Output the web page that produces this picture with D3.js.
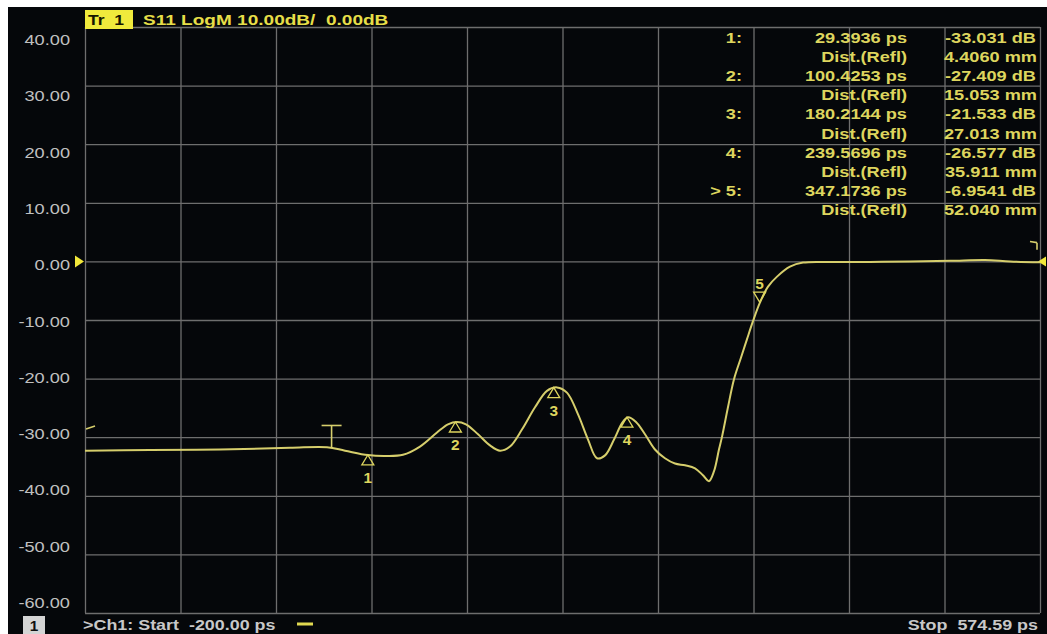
<!DOCTYPE html>
<html>
<head>
<meta charset="utf-8">
<script src="https://cdn.jsdelivr.net/npm/d3@7"></script>
<style>
  html, body { margin: 0; padding: 0; background: #ffffff; }
  svg { display: block; }
  text { font-family: "Liberation Sans", Arial, sans-serif; white-space: pre; }
</style>
</head>
<body>
<svg id="chart" width="1047" height="634"></svg>
<script>
// ---------------- data ----------------
const startPs = -200.00;
const stopPs = 574.59;
const yTicks = [40, 30, 20, 10, 0, -10, -20, -30, -40, -50, -60];
const traceTitle = "S11 LogM 10.00dB/  0.00dB";

// trace (time in ps, S11 in dB)
const tracePs = [-200, -147.3, -90.5, -33.7, -3.7, 10.9, 29.5, 43.3, 57.9, 71.7, 85.5, 94.4, 101.7, 109.0,
  118.8, 128.5, 136.6, 144.7, 154.4, 165.0, 174.7, 182.8, 190.9, 199.9, 208.0, 215.3, 221.8, 229.1, 235.6,
  240.4, 246.9, 254.2, 262.3, 270.4, 278.5, 286.7, 294.8, 301.2, 306.1, 310.2, 314.2, 316.7, 321.5, 326.4,
  332.1, 336.9, 341.8, 347.5, 354.0, 361.3, 371.8, 382.4, 404.3, 436.7, 469.1, 501.6, 530.0, 550.3, 574.59];
const traceDb = [-32.3, -32.2, -32.1, -31.8, -31.7, -32.3, -33.05, -33.2, -33.0, -31.6, -29.2, -27.8, -27.4, -27.8,
  -29.5, -31.4, -32.3, -31.6, -28.7, -24.9, -22.1, -21.5, -22.4, -26.1, -30.4, -33.6, -33.1, -30.4, -27.6,
  -26.6, -27.4, -29.5, -32.1, -33.6, -34.5, -34.8, -35.3, -36.5, -37.5, -35.8, -32.1, -29.9, -24.9, -20.1,
  -16.4, -13.3, -10.2, -7.0, -4.3, -2.6, -0.9, -0.2, -0.1, -0.1, 0.0, 0.1, 0.25, 0.0, -0.15];

// markers
const markerNames = ["1", "2", "3", "4", "5"];
const markerPs = [29.3936, 100.4253, 180.2144, 239.5696, 347.1736];
const markerDb = [-33.031, -27.409, -21.533, -26.577, -6.9541];
const markerDistMm = [4.4060, 15.053, 27.013, 35.911, 52.040];
const activeMarker = 4;

// gate marker
const gatePs = 0;
const gateTopDb = -28;
const gateBottomDb = -31.7;

// ---------------- layout ----------------
const W = 1047, H = 634;
const pLeft = 85, pRight = 1040, pTop = 27, pBottom = 613;
const yellow = "#ddd55e";
const traceColor = "#d6ce6c";
const gridColor = "#6e6e6e";
const labelGrey = "#c0c0c0";

const svg = d3.select("#chart");
svg.append("rect").attr("x", 8).attr("y", 7).attr("width", W - 8).attr("height", H - 7).attr("fill", "#05070a");

const x = d3.scaleLinear().domain([startPs, stopPs]).range([pLeft, pRight]);
const y = d3.scaleLinear().domain([-60, 40]).range([pBottom, pTop]);
const yLab = d3.scaleLinear().domain([-60, 40]).range([603, 40]);

function sText(g, px, py, str, opts) {
  const o = Object.assign({anchor: "start", size: 14, weight: "bold", fill: yellow, sx: 1.3}, opts || {});
  return g.append("text")
    .attr("transform", `translate(${px},${py}) scale(${o.sx},1)`)
    .attr("text-anchor", o.anchor)
    .attr("font-size", o.size)
    .attr("font-weight", o.weight)
    .attr("fill", o.fill)
    .attr("xml:space", "preserve")
    .text(str);
}

// grid via axes
const xDivs = d3.range(0, 11).map(i => startPs + i * (stopPs - startPs) / 10);
const gx = svg.append("g").attr("transform", `translate(0,${pBottom})`)
  .call(d3.axisBottom(x).tickValues(xDivs).tickSize(-(pBottom - pTop)).tickFormat(""));
gx.select(".domain").remove();
gx.selectAll(".tick line").attr("stroke", gridColor).attr("stroke-width", 1.3);

const gy = svg.append("g").attr("transform", `translate(${pLeft},0)`)
  .call(d3.axisLeft(y).tickValues(yTicks).tickSize(-(pRight - pLeft)).tickFormat(""));
gy.select(".domain").remove();
gy.selectAll(".tick line").attr("stroke", gridColor).attr("stroke-width", 1.3);

// y labels
const gl = svg.append("g");
yTicks.forEach(v => {
  sText(gl, 70, yLab(v) + 5, v.toFixed(2), {anchor: "end", size: 14, weight: "normal", fill: labelGrey, sx: 1.3});
});

// header
svg.append("rect").attr("x", 85).attr("y", 10).attr("width", 48).attr("height", 19).attr("fill", "#f0ea3c");
sText(svg, 88, 25, "Tr  1", {size: 14, fill: "#161600", sx: 1.25});
sText(svg, 143, 25, traceTitle, {size: 15, fill: "#e6de48", sx: 1.27});

// reference level arrows
svg.append("path").attr("d", `M${pLeft - 10},${y(0) - 6} L${pLeft - 1},${y(0)} L${pLeft - 10},${y(0) + 6} Z`).attr("fill", "#f2e83a");
svg.append("path").attr("d", `M${pRight + 6},${y(0) - 5} L${pRight - 2},${y(0)} L${pRight + 6},${y(0) + 5} Z`).attr("fill", "#f2e83a");

// trace
const pts = tracePs.map((t, i) => [t, traceDb[i]]);
svg.append("path").datum(pts)
  .attr("d", d3.line().x(d => x(d[0])).y(d => y(d[1])).curve(d3.curveCatmullRom.alpha(0.5)))
  .attr("fill", "none").attr("stroke", traceColor).attr("stroke-width", 2);

// gate marker
const gg = svg.append("g").attr("stroke", traceColor).attr("stroke-width", 1.6).attr("fill", "none");
gg.append("line").attr("x1", x(gatePs)).attr("x2", x(gatePs)).attr("y1", y(gateTopDb)).attr("y2", y(gateBottomDb));
gg.append("line").attr("x1", x(gatePs) - 10).attr("x2", x(gatePs) + 10).attr("y1", y(gateTopDb)).attr("y2", y(gateTopDb));
gg.append("line").attr("x1", pLeft + 1).attr("x2", pLeft + 10).attr("y1", y(-28.6)).attr("y2", y(-28.1));
gg.append("line").attr("x1", pRight - 10).attr("x2", pRight - 3).attr("y1", y(3.4)).attr("y2", y(3.2));
gg.append("line").attr("x1", pRight - 3).attr("x2", pRight - 3).attr("y1", y(3.2)).attr("y2", y(2.0));

// markers on trace
const gm = svg.append("g");
markerPs.forEach((t, i) => {
  const mx = x(t), my = y(markerDb[i]);
  if (i === activeMarker) {
    gm.append("path").attr("d", `M${mx},${my} L${mx - 6},${my - 10} L${mx + 6},${my - 10} Z`)
      .attr("fill", "none").attr("stroke", yellow).attr("stroke-width", 1.3);
    sText(gm, mx, my - 13, markerNames[i], {anchor: "middle", size: 14, sx: 1.1});
  } else {
    gm.append("path").attr("d", `M${mx},${my} L${mx - 6},${my + 10} L${mx + 6},${my + 10} Z`)
      .attr("fill", "none").attr("stroke", yellow).attr("stroke-width", 1.3);
    sText(gm, mx, my + 28, markerNames[i], {anchor: "middle", size: 14, sx: 1.1});
  }
});

// marker table
const gt = svg.append("g");
const row0 = 37.5, rowH = 19.2;
markerPs.forEach((t, i) => {
  const yA = row0 + 2 * i * rowH + 5;
  const yB = row0 + (2 * i + 1) * rowH + 5;
  sText(gt, 742, yA, (i === activeMarker ? "> " : "") + markerNames[i] + ":", {anchor: "end"});
  sText(gt, 907, yA, t.toFixed(4) + " ps", {anchor: "end"});
  sText(gt, 1036, yA, markerDb[i].toPrecision(5) + " dB", {anchor: "end"});
  sText(gt, 907, yB, "Dist.(Refl)", {anchor: "end"});
  sText(gt, 1037, yB, markerDistMm[i].toPrecision(5) + " mm", {anchor: "end"});
});

// bottom status
svg.append("rect").attr("x", 23).attr("y", 616).attr("width", 22).attr("height", 18).attr("fill", "#d4d4d4");
sText(svg, 34, 631, "1", {anchor: "middle", size: 14, fill: "#111", sx: 1.1});
sText(svg, 83, 630, `>Ch1: Start  ${startPs.toFixed(2)} ps`, {size: 14, fill: "#c8c8c8", sx: 1.28});
svg.append("line").attr("x1", 297).attr("x2", 313).attr("y1", 624).attr("y2", 624).attr("stroke", "#e0d850").attr("stroke-width", 3);
sText(svg, 1038, 630, `Stop  ${stopPs.toFixed(2)} ps`, {anchor: "end", size: 14, fill: "#c8c8c8", sx: 1.28});
</script>
</body>
</html>
